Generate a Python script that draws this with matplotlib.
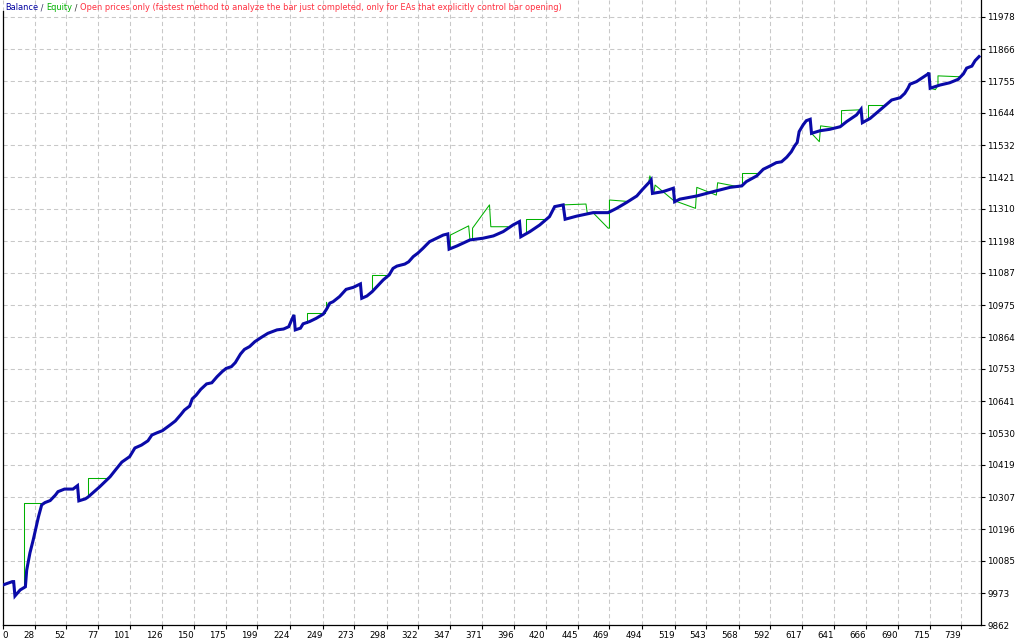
import matplotlib
matplotlib.use("Agg")
import matplotlib.pyplot as plt

# balance curve (trade number, balance)
bal_x = [3.6, 11, 12, 13, 17, 21, 22, 24.5, 27, 31, 33.5, 36, 40, 44, 46, 51, 57.5, 61, 62, 67,
         69, 78, 86, 90, 95, 101, 105, 110, 115, 118, 122, 126, 132, 136, 140, 143, 147, 149, 152, 155.5,
         160, 164, 168, 172, 175, 179, 182, 186, 189, 193, 197, 202, 207, 214, 219, 223, 225, 227, 228, 232,
         234, 239, 244, 249.5, 252, 254.5, 257, 262, 267, 272.5, 278, 279, 283, 287, 290.5, 295.5, 300, 303, 306, 312,
         315, 318.5, 322, 326, 331, 336.5, 341.5, 345, 346, 352, 362, 372, 380, 387.5, 395, 400, 401, 408, 415.5, 423,
         427, 433.5, 435, 444, 456.5, 468, 474.5, 482, 490, 494, 500, 501, 502, 510, 518, 519, 523, 536, 548.5, 561.5,
         570.5, 574, 582, 587, 592, 597, 601, 605, 608.5, 611, 613, 614.5, 617.5, 620, 623, 624, 630.5, 638, 646, 651,
         658.5, 662, 663, 669, 676.5, 685.5, 692, 695.5, 698, 699.5, 704.5, 708.5, 713.5, 714, 715, 722.5, 730, 736.5, 740.5, 743,
         747, 749.5, 752.5]
bal_y = [10001, 10013, 10013, 9963, 9984, 9995, 10053, 10113, 10158, 10238, 10280, 10288, 10295, 10314, 10326, 10335, 10335, 10347, 10294, 10301,
         10307, 10343, 10378, 10401, 10429, 10448, 10478, 10488, 10503, 10523, 10531, 10538, 10558, 10572, 10593, 10610, 10624, 10649, 10662, 10682,
         10701, 10705, 10726, 10744, 10755, 10761, 10775, 10805, 10821, 10831, 10848, 10863, 10877, 10889, 10892, 10900, 10921, 10941, 10889, 10895,
         10910, 10918, 10929, 10944, 10961, 10982, 10987, 11005, 11030, 11037, 11049, 10999, 11007, 11022, 11039, 11063, 11080, 11103, 11111, 11118,
         11126, 11144, 11156, 11173, 11196, 11208, 11219, 11223, 11170, 11181, 11202, 11208, 11216, 11231, 11254, 11266, 11213, 11231, 11254, 11283,
         11318, 11324, 11274, 11285, 11297, 11297, 11312, 11332, 11355, 11376, 11405, 11411, 11364, 11370, 11382, 11335, 11344, 11355, 11370, 11385,
         11390, 11405, 11425, 11448, 11459, 11471, 11474, 11490, 11509, 11529, 11541, 11579, 11602, 11617, 11622, 11573, 11582, 11587, 11596, 11614,
         11637, 11657, 11610, 11625, 11654, 11689, 11697, 11712, 11730, 11744, 11753, 11765, 11780, 11784, 11730, 11741, 11749, 11761, 11780, 11800,
         11807, 11826, 11840]

# equity where it leaves the balance line (open trades)
eq_segments = [
    [(20, 9992), (20, 10286), (35, 10286)],
    [(69, 10307), (69, 10373), (84, 10373)],
    [(237, 10914), (237, 10947), (251, 10947)],
    [(252, 10961), (252, 10985), (253, 10965)],
    [(287, 11022), (287, 11080), (300, 11080)],
    [(347, 11175), (347, 11219), (361, 11251), (362, 11202), (364, 11200), (364, 11243), (377, 11324), (378, 11248), (391, 11248)],
    [(405, 11222), (405, 11274), (420, 11274)],
    [(433.5, 11324), (451, 11327), (452, 11295), (457, 11294), (468, 11243), (469, 11243), (469, 11341), (483, 11336)],
    [(499, 11400), (500, 11425), (501, 11411)],
    [(503, 11364), (504, 11393), (518, 11340), (535, 11312), (536, 11385), (551, 11358), (552, 11401), (568, 11387)],
    [(571, 11390), (571, 11434), (584, 11434)],
    [(624, 11573), (630, 11544), (631, 11599), (643, 11592)],
    [(647, 11600), (647, 11652), (662, 11655)],
    [(667, 11622), (667, 11672), (681, 11672)],
    [(715, 11730), (719, 11725), (721, 11740), (721, 11773), (737, 11770)],
]

x_labels = ['28', '52', '77', '101', '126', '150', '175', '199', '224', '249', '273', '298', '322', '347', '371',
            '396', '420', '445', '469', '494', '519', '543', '568', '592', '617', '641', '666', '690', '715', '739']
y_labels = ['9862', '9973', '10085', '10196', '10307', '10419', '10530', '10641', '10753', '10864', '10975',
            '11087', '11198', '11310', '11421', '11532', '11644', '11755', '11866', '11978']

BLUE = '#0a0aa8'
GREEN = '#00b000'

plt.rcParams['font.family'] = ['DejaVu Sans']
plt.rcParams['lines.scale_dashes'] = False

fig = plt.figure(figsize=(10.24, 6.4), dpi=100)
ax = fig.add_axes([2.7 / 1024, 15 / 640, (981 - 2.7) / 1024, 625 / 640])
ax.set_xlim(3.6, 754)
ax.set_ylim(9862, 12037)

# equity under balance
ax.plot(bal_x, bal_y, color=GREEN, lw=0.75, zorder=3)
for seg in eq_segments:
    xs = [p[0] for p in seg]
    ys = [p[1] for p in seg]
    ax.plot(xs, ys, color=GREEN, lw=0.75, zorder=3)
ax.plot(bal_x, bal_y, color=BLUE, lw=2.2, zorder=4, solid_joinstyle='miter')

# axes / ticks
xt = [3.6] + [float(v) for v in x_labels]
ax.set_xticks(xt)
ax.set_xticklabels(['0'] + x_labels)
for i, lab in enumerate(ax.get_xticklabels()):
    lab.set_ha('left' if i == 0 else 'right')
ax.set_yticks([float(v) for v in y_labels])
ax.set_yticklabels(y_labels)
ax.yaxis.tick_right()
ax.tick_params(axis='both', length=3, width=0.8, direction='out', labelsize=6.3, colors='black')
ax.tick_params(axis='x', pad=1.5)
ax.tick_params(axis='y', pad=1.5)

ax.grid(True, color='#c8c8c8', lw=0.75, linestyle=(0, (3, 2.2)), zorder=0)
ax.spines['top'].set_visible(False)
for s in ['left', 'right', 'bottom']:
    ax.spines[s].set_linewidth(0.9)
ax.spines['left'].set_bounds(9862, 12000)

# title line
fs = 5.95
t = fig.text(5 / 1024, 1 - 8 / 640, 'Balance', color='#0000a0', fontsize=fs, va='center')
parts = [(' / ', '#303060'), ('Equity', GREEN), (' / ', '#303030'),
         ('Open prices only (fastest method to analyze the bar just completed, only for EAs that explicitly control bar opening)', '#ff3040')]
for txt, col in parts:
    t = ax.annotate(txt, xy=(1, 0.5), xycoords=t, va='center', ha='left',
                    color=col, fontsize=fs, annotation_clip=False)

fig.savefig('out.png', dpi=100, facecolor='white')
